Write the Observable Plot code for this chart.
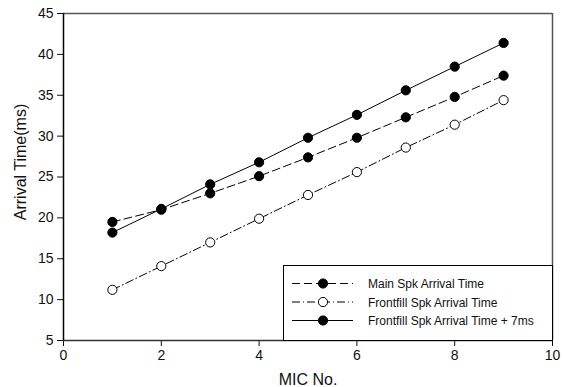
<!DOCTYPE html>
<html>
<head>
<meta charset="utf-8">
<script src="https://cdn.jsdelivr.net/npm/d3@7"></script>
<script src="https://cdn.jsdelivr.net/npm/@observablehq/plot@0.6"></script>
<style>
  html, body { margin: 0; padding: 0; background: #fff; }
  #wrap { position: relative; width: 564px; height: 387px; font-family: "Liberation Sans", Arial, sans-serif; }
  #legend { position: absolute; }
</style>
</head>
<body>
<div id="wrap"></div>
<script>
const mics = [1, 2, 3, 4, 5, 6, 7, 8, 9];
const mainSpk = [19.5, 21.0, 23.0, 25.1, 27.4, 29.8, 32.3, 34.8, 37.4];
const frontfill = [11.2, 14.1, 17.0, 19.9, 22.8, 25.6, 28.6, 31.4, 34.4];
const frontfillPlus7 = [18.2, 21.1, 24.1, 26.8, 29.8, 32.6, 35.6, 38.5, 41.4];
const seriesNames = ["Main Spk Arrival Time", "Frontfill Spk Arrival Time", "Frontfill Spk Arrival Time + 7ms"];
const xTicks = [0, 2, 4, 6, 8, 10];
const yTicks = [5, 10, 15, 20, 25, 30, 35, 40, 45];

const styles = [
  {dash: "8,4", fill: "black"},
  {dash: "8,3,1,3", fill: "white"},
  {dash: null, fill: "black"}
];
const valuesList = [mainSpk, frontfill, frontfillPlus7];
const data = valuesList.map((vals, i) => mics.map((m, j) => ({mic: m, t: vals[j], s: seriesNames[i]})));

const marks = [];
data.forEach((d, i) => {
  marks.push(Plot.line(d, {x: "mic", y: "t", stroke: "black", strokeWidth: 1, strokeDasharray: styles[i].dash}));
});
data.forEach((d, i) => {
  marks.push(Plot.dot(d, {x: "mic", y: "t", r: 4.6, fill: styles[i].fill, stroke: "black", strokeWidth: 1}));
});

const chart = Plot.plot({
  width: 564,
  height: 387,
  marginLeft: 63,
  marginRight: 12,
  marginTop: 13,
  marginBottom: 47,
  style: {fontFamily: "'Liberation Sans', Arial, sans-serif", fontSize: "14px", color: "#111", background: "white"},
  x: {domain: [0, 10]},
  y: {domain: [5, 45]},
  marks: [
    Plot.ruleY([45], {stroke: "#555", strokeWidth: 1.5}),
    Plot.ruleX([10], {stroke: "#555", strokeWidth: 1.5}),
    ...marks,
    Plot.axisX({ticks: xTicks, tickSize: 6, tickPadding: 4, label: "MIC No.", labelAnchor: "center", labelArrow: "none", labelOffset: 44, fontSize: 14}),
    Plot.axisY({ticks: yTicks, tickSize: 6, tickPadding: 4, label: null, fontSize: 14}),
    Plot.ruleX([0], {stroke: "black", strokeWidth: 1.5}),
    Plot.ruleY([5], {stroke: "#333", strokeWidth: 1.5})
  ]
});
document.getElementById("wrap").appendChild(chart);

// enlarge x-axis label
d3.select(chart).selectAll("g[aria-label='x-axis label'] text").style("font-size", "16px");

// y-axis title
const svg = d3.select(chart);
svg.append("text")
  .attr("transform", "translate(26,162) rotate(-90)")
  .attr("text-anchor", "middle")
  .style("font-size", "16px")
  .attr("fill", "#111")
  .text("Arrival Time(ms)");

// legend
const lg = d3.select("#wrap").append("svg")
  .attr("id", "legend")
  .attr("width", 270).attr("height", 76)
  .style("left", "282.5px").style("top", "264.5px");
lg.append("rect").attr("x", 0.5).attr("y", 0.5).attr("width", 269).attr("height", 75)
  .attr("fill", "white").attr("stroke", "black");
const rowsY = [18.5, 37, 55.5];
seriesNames.forEach((name, i) => {
  const y = rowsY[i];
  lg.append("line").attr("x1", 9).attr("x2", 70).attr("y1", y).attr("y2", y)
    .attr("stroke", "black").attr("stroke-dasharray", styles[i].dash);
  lg.append("circle").attr("cx", 40).attr("cy", y).attr("r", 4.6)
    .attr("fill", styles[i].fill).attr("stroke", "black");
  lg.append("text").attr("x", 85).attr("y", y + 4.5)
    .style("font-size", "12px").style("font-family", "'Liberation Sans', Arial, sans-serif")
    .attr("fill", "#111").text(name);
});
</script>
</body>
</html>
